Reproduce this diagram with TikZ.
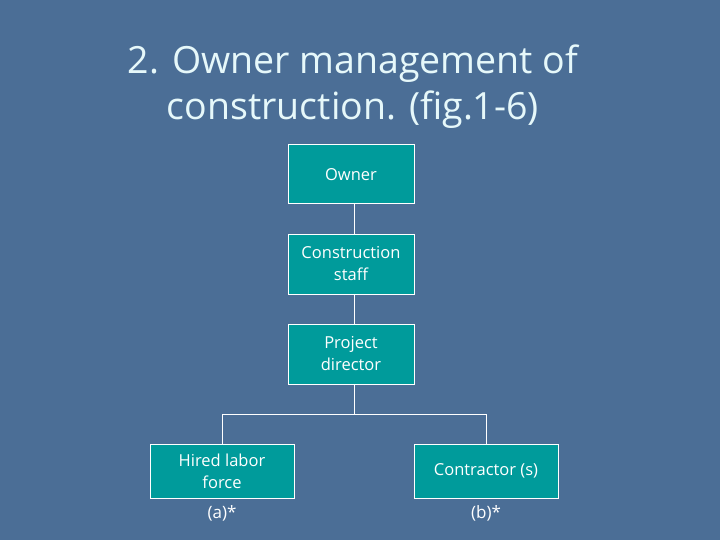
\documentclass[tikz,border=0pt]{standalone}
\usepackage{fontspec}
\setmainfont{Open Sans}
\usetikzlibrary{positioning}
\definecolor{slidebg}{HTML}{4B6E96}
\definecolor{boxteal}{HTML}{009B9B}
\definecolor{titlecol}{HTML}{E6F8FA}

\begin{document}
\begin{tikzpicture}[x=1pt, y=-1pt,
	orgbox/.style={draw=white, fill=boxteal, text=white, line width=1pt, font=\fontsize{16.5}{22}\selectfont, align=center, inner sep=0pt},
	link/.style={draw=white, line width=1pt},
	note/.style={text=white, font=\fontsize{17}{22}\selectfont}]
	% slide background
	\fill[slidebg] (0,0) rectangle (720,540);
	\useasboundingbox (0,0) rectangle (720,540);

	% title
	\node[text=titlecol, font=\fontsize{37.5}{46}\selectfont, align=center] (title) at (353,87) {2. Owner management of\\ construction. (fig.1-6)};

	% boxes
	\node[orgbox, minimum width=126pt, minimum height=59pt] (owner) at (351,174.5) {Owner};
	\node[orgbox, minimum width=126pt, minimum height=60pt] (staff) at (351,264) {Construction\\ staff};
	\node[orgbox, minimum width=126pt, minimum height=60pt] (director) at (351,354) {Project\\ director};
	\node[orgbox, minimum width=144pt, minimum height=54pt] (hired) at (222,471) {Hired labor\\ force};
	\node[orgbox, minimum width=144pt, minimum height=54pt] (contractor) at (486,471) {Contractor (s)};

	% connectors
	\coordinate (split) at (354,414);
	\coordinate (leftend) at (222,414);
	\coordinate (rightend) at (486,414);
	\draw[link] (owner.south -| split) -- (staff.north -| split);
	\draw[link] (staff.south -| split) -- (director.north -| split);
	\draw[link] (director.south -| split) -- (split);
	\draw[link] (hired.north) -- (leftend) -- (rightend) -- (contractor.north);

	% notes
	\node[note, below=4pt of hired] (notea) {(a)*};
	\node[note, below=4pt of contractor] (noteb) {(b)*};
\end{tikzpicture}
\end{document}
